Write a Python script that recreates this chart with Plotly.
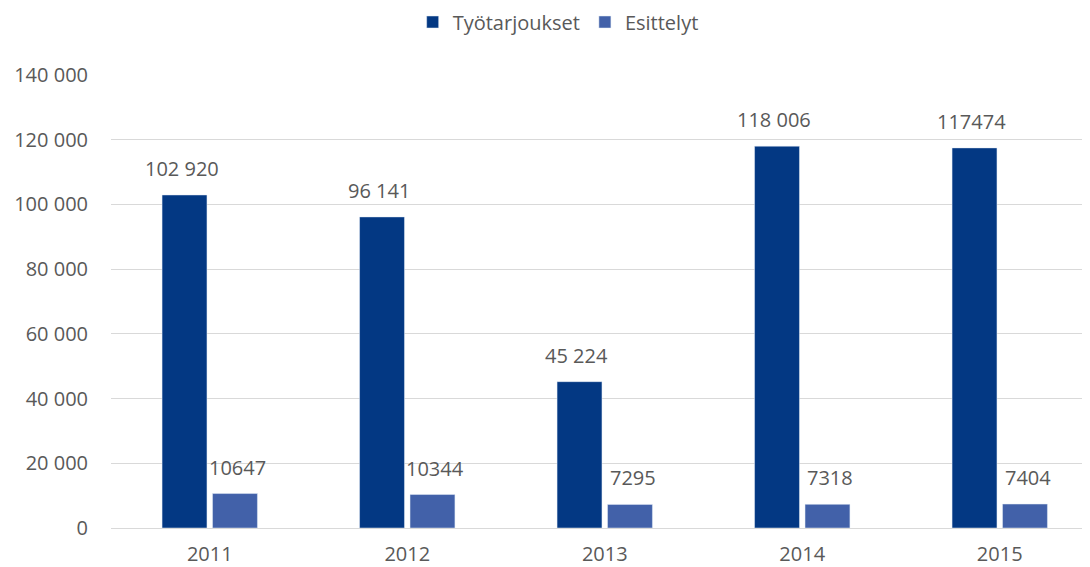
import plotly.graph_objects as go

years = ["2011", "2012", "2013", "2014", "2015"]
tyotarjoukset = [102920, 96141, 45224, 118006, 117474]
tyotarjoukset_labels = ["102 920", "96 141", "45 224", "118 006", "117474"]
esittelyt = [10647, 10344, 7295, 7318, 7404]
esittelyt_labels = ["10647", "10344", "7295", "7318", "7404"]
y_ticks = [0, 20000, 40000, 60000, 80000, 100000, 120000, 140000]
y_tick_labels = ["0", "20 000", "40 000", "60 000", "80 000", "100 000", "120 000", "140 000"]

FONT = "Open Sans"
GREY = "#595959"
SIZE = 20
OFF = 8  # page body margin offset

fig = go.Figure()
fig.add_trace(go.Bar(
    name="Työtarjoukset", x=years, y=tyotarjoukset,
    marker=dict(color="#033883"),
))
fig.add_trace(go.Bar(
    name="Esittelyt", x=years, y=esittelyt,
    marker=dict(color="#4261A9"),
))

annotations = []
for i, (v, t) in enumerate(zip(tyotarjoukset, tyotarjoukset_labels)):
    annotations.append(dict(x=i, y=v, text=t, xref="x", yref="y", showarrow=False,
                            xshift=-28, yshift=11, yanchor="bottom", xanchor="center",
                            font=dict(family=FONT, size=SIZE, color=GREY)))
for i, (v, t) in enumerate(zip(esittelyt, esittelyt_labels)):
    annotations.append(dict(x=i, y=v, text=t, xref="x", yref="y", showarrow=False,
                            xshift=28, yshift=11, yanchor="bottom", xanchor="center",
                            font=dict(family=FONT, size=SIZE, color=GREY)))

fig.update_layout(
    width=1090 - OFF, height=567 - OFF,
    margin=dict(l=111 - OFF, r=0, t=75 - OFF, b=39, pad=0),
    paper_bgcolor="white", plot_bgcolor="white",
    barmode="group", bargap=0.489, bargroupgap=0.11,
    font=dict(family=FONT, size=SIZE, color=GREY),
    legend=dict(orientation="h", x=0.374, xanchor="left", y=1 - 14 / 559, yanchor="middle",
                yref="container", xref="container",
                font=dict(family=FONT, size=SIZE, color=GREY),
                itemwidth=30, traceorder="normal"),
    showlegend=True,
    annotations=annotations,
)
fig.update_xaxes(type="category", range=[-0.5, 4.457], showgrid=False, showline=False, ticks="",
                 automargin=False, ticklabelstandoff=12,
                 tickfont=dict(family=FONT, size=SIZE, color=GREY))
fig.update_yaxes(range=[0, 140000], tickvals=y_ticks, ticktext=y_tick_labels,
                 showgrid=True, gridcolor="#D9D9D9", gridwidth=1,
                 zeroline=True, zerolinecolor="#D9D9D9", zerolinewidth=1,
                 showline=False, ticks="", ticklabelstandoff=22, automargin=False,
                 tickfont=dict(family=FONT, size=SIZE, color=GREY))

fig.write_html("out.html")
